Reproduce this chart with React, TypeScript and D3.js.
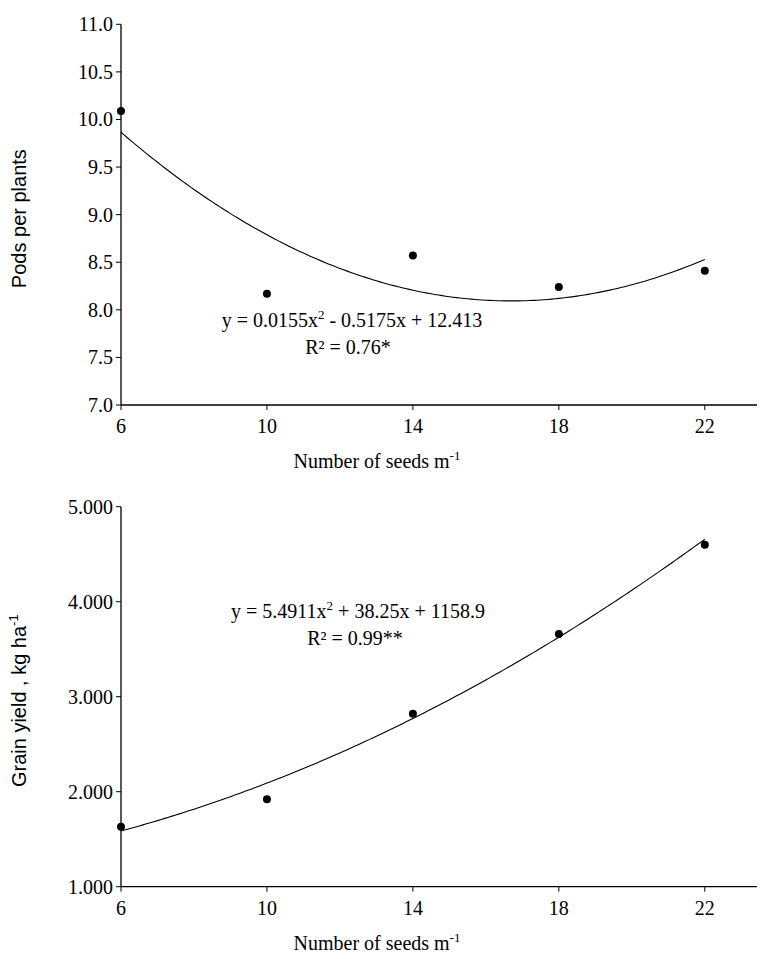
import React from 'react';
import * as d3 from 'd3';

const seeds = [6, 10, 14, 18, 22];
const pods = [10.09, 8.17, 8.57, 8.24, 8.41];
const grain = [1630, 1920, 2820, 3660, 4600];
const podsTicks = [7, 7.5, 8, 8.5, 9, 9.5, 10, 10.5, 11];
const grainTicks = [1000, 2000, 3000, 4000, 5000];

const podsFit = (x: number) => 0.0155 * x * x - 0.5175 * x + 12.413;
const grainFit = (x: number) => 5.4911 * x * x + 38.25 * x + 1158.9;

const serif = '"Liberation Serif", "Times New Roman", serif';
const sans = '"Liberation Sans", Arial, sans-serif';

const left = 121;
const right = 765;

interface PanelProps {
  top: number;
  bottom: number;
  domain: [number, number];
  ticks: number[];
  fmt: (v: number) => string;
  values: number[];
  fit: (x: number) => number;
  yLabel: React.ReactNode;
  eq: React.ReactNode;
  eqY: number;
  titleY: number;
}

const Panel: React.FC<PanelProps> = ({ top, bottom, domain, ticks, fmt, values, fit, yLabel, eq, eqY, titleY }) => {
  const x = d3.scaleLinear().domain([6, 23.65]).range([left, right]);
  const y = d3.scaleLinear().domain(domain).range([bottom, top]);
  const xs = d3.range(6, 22.001, 0.1);
  const line = d3.line<number>().x(d => x(d)).y(d => y(fit(d)))(xs) || '';
  return (
    <g>
      <line x1={left} y1={top} x2={left} y2={bottom} stroke="#000" strokeWidth={1.3} />
      <line x1={left} y1={bottom} x2={right} y2={bottom} stroke="#000" strokeWidth={1.3} />
      {ticks.map(t => (
        <g key={t}>
          <line x1={left - 5} x2={left} y1={y(t)} y2={y(t)} stroke="#000" />
          <text x={left - 8} y={y(t)} dy="0.35em" textAnchor="end" fontFamily={serif} fontSize={20}>{fmt(t)}</text>
        </g>
      ))}
      {seeds.map(s => (
        <g key={s}>
          <line x1={x(s)} x2={x(s)} y1={bottom} y2={bottom + 5} stroke="#000" />
          <text x={x(s)} y={bottom + 28} textAnchor="middle" fontFamily={serif} fontSize={20}>{s}</text>
        </g>
      ))}
      <path d={line} fill="none" stroke="#000" strokeWidth={1.1} />
      {seeds.map((s, i) => (
        <circle key={s} cx={x(s)} cy={y(values[i])} r={4} fill="#000" />
      ))}
      <text y={eqY} textAnchor="middle" fontFamily={serif} fontSize={20}>{eq}</text>
      <text transform={`translate(26,${(top + bottom) / 2 + 4}) rotate(-90)`} textAnchor="middle" fontFamily={sans} fontSize={20}>{yLabel}</text>
      <text x={377} y={titleY} textAnchor="middle" fontFamily={serif} fontSize={20}>
        Number of seeds m<tspan dy="-8" fontSize={13}>-1</tspan>
      </text>
    </g>
  );
};

export default function App() {
  return (
    <svg width={765} height={959} style={{ display: 'block', margin: -8, background: '#fff' }}>
      <Panel
        top={24.3}
        bottom={405}
        domain={[7, 11]}
        ticks={podsTicks}
        fmt={d3.format('.1f')}
        values={pods}
        fit={podsFit}
        yLabel="Pods per plants"
        eq={<>
          <tspan x={352} dy={0}>y = 0.0155x<tspan dy="-8" fontSize={13}>2</tspan><tspan dy="8"> - 0.5175x + 12.413</tspan></tspan>
          <tspan x={348} dy={27}>R² = 0.76*</tspan>
        </>}
        eqY={327}
        titleY={468}
      />
      <Panel
        top={506.7}
        bottom={886.7}
        domain={[1000, 5000]}
        ticks={grainTicks}
        fmt={v => d3.format('.3f')(v / 1000)}
        values={grain}
        fit={grainFit}
        yLabel={<>Grain yield  , kg ha<tspan dy="-8" fontSize={13}>-1</tspan></>}
        eq={<>
          <tspan x={358} dy={0}>y = 5.4911x<tspan dy="-8" fontSize={13}>2</tspan><tspan dy="8"> + 38.25x + 1158.9</tspan></tspan>
          <tspan x={355} dy={27}>R² = 0.99**</tspan>
        </>}
        eqY={618}
        titleY={950}
      />
    </svg>
  );
}
